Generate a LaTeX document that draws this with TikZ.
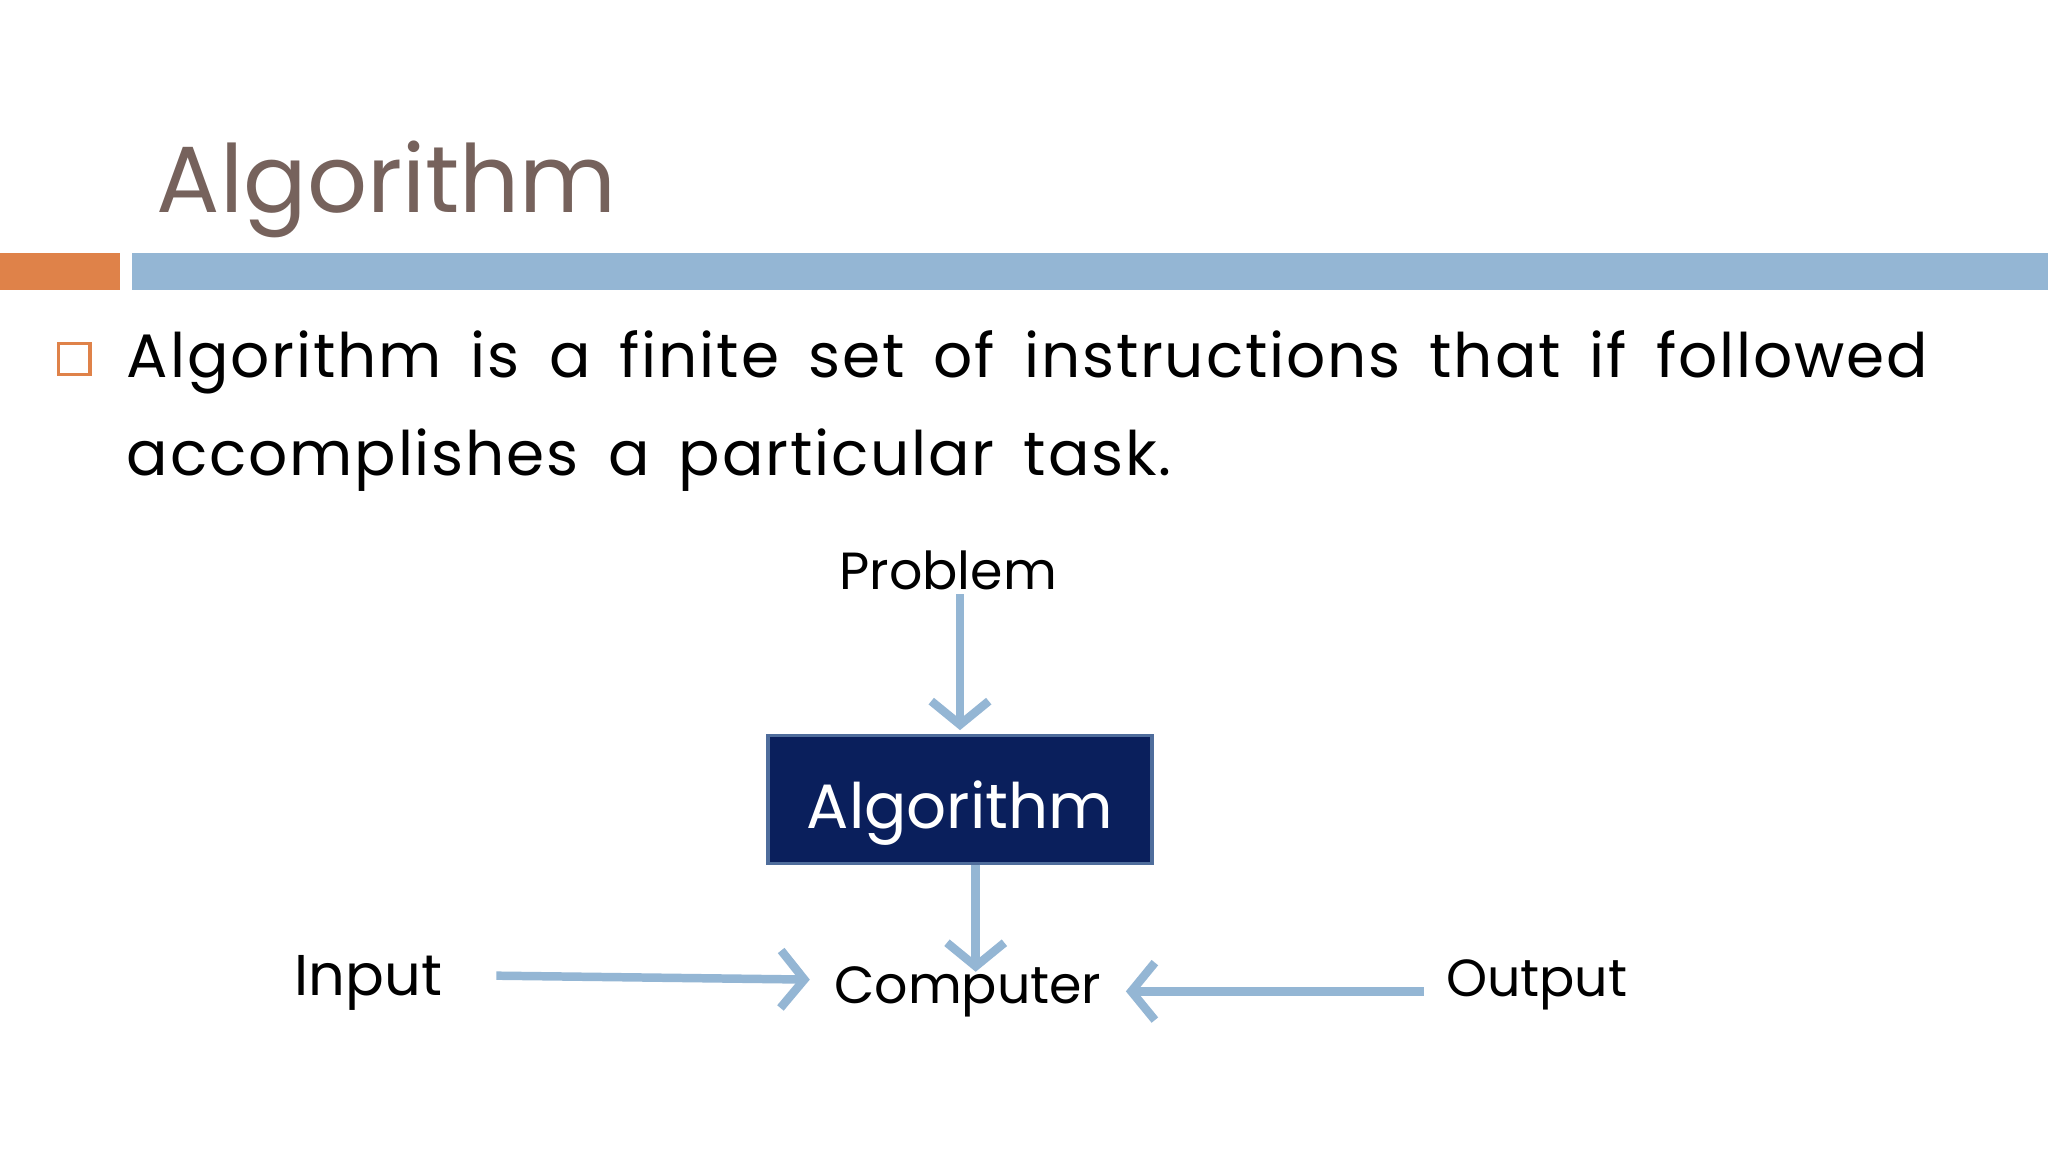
\documentclass[tikz,border=0pt]{standalone}
\usepackage{fontspec}
\setmainfont{Poppins}
\newfontfamily\bodyfont[LetterSpace=3,WordSpace=1.6]{Poppins}
\usetikzlibrary{arrows.meta}
\definecolor{titlebrown}{HTML}{76625C}
\definecolor{barorange}{HTML}{DF8249}
\definecolor{barblue}{HTML}{94B6D4}
\definecolor{navy}{HTML}{0A1F5C}
\definecolor{boxedge}{HTML}{4F6D9C}
\tikzset{
  flow/.style={draw=barblue,line width=6.5pt,-{Straight Barb[length=18pt,width=44pt]}},
  lbl/.style={font=\fontsize{40}{48}\selectfont,inner sep=0pt,anchor=base},
}
\begin{document}
\begin{tikzpicture}[x=1pt,y=-1pt]
\useasboundingbox (0,0) rectangle (1568,882);
\fill[white] (0,0) rectangle (1568,882);
\node[font=\fontsize{72}{90}\selectfont,text=titlebrown,anchor=base west,inner sep=0pt] (title) at (120,163) {Algorithm};
\fill[barorange] (0,194) rectangle (92,222);
\fill[barblue] (101,194) rectangle (1568,222);
\draw[barorange,line width=2.5pt] (45,263) rectangle (69,287);
\node[font=\bodyfont\fontsize{47}{75}\selectfont,anchor=base west,inner sep=0pt] (l1) at (97,289) {Algorithm is a finite set of instructions that if followed};
\node[font=\bodyfont\fontsize{47}{75}\selectfont,anchor=base west,inner sep=0pt] (l2) at (97,364) {accomplishes a particular task.};
\node[lbl] (prob) at (726,451) {Problem};
\node[draw=boxedge,line width=2.5pt,fill=navy,minimum width=294pt,minimum height=98pt] (alg) at (735,612) {};
\node[text=white,font=\fontsize{48}{56}\selectfont,anchor=base,inner sep=0pt] (algt) at (735,634) {Algorithm};
\node[lbl] (comp) at (741,768) {Computer};
\node[lbl,font=\fontsize{44}{50}\selectfont] (inp) at (282,762) {Input};
\node[lbl,anchor=base west] (outp) at (1107,763) {Output};
\coordinate (a1) at (735,455); \coordinate (a2) at (735,559);
\coordinate (b1) at (747,662); \coordinate (b2) at (747,744);
\coordinate (c1) at (380,747); \coordinate (c2) at (620,750);
\coordinate (d1) at (1090,759); \coordinate (d2) at (862,759);
\draw[flow] (a1) -- (a2);
\draw[flow] (b1) -- (b2);
\draw[flow] (c1) -- (c2);
\draw[flow] (d1) -- (d2);
\end{tikzpicture}
\end{document}
